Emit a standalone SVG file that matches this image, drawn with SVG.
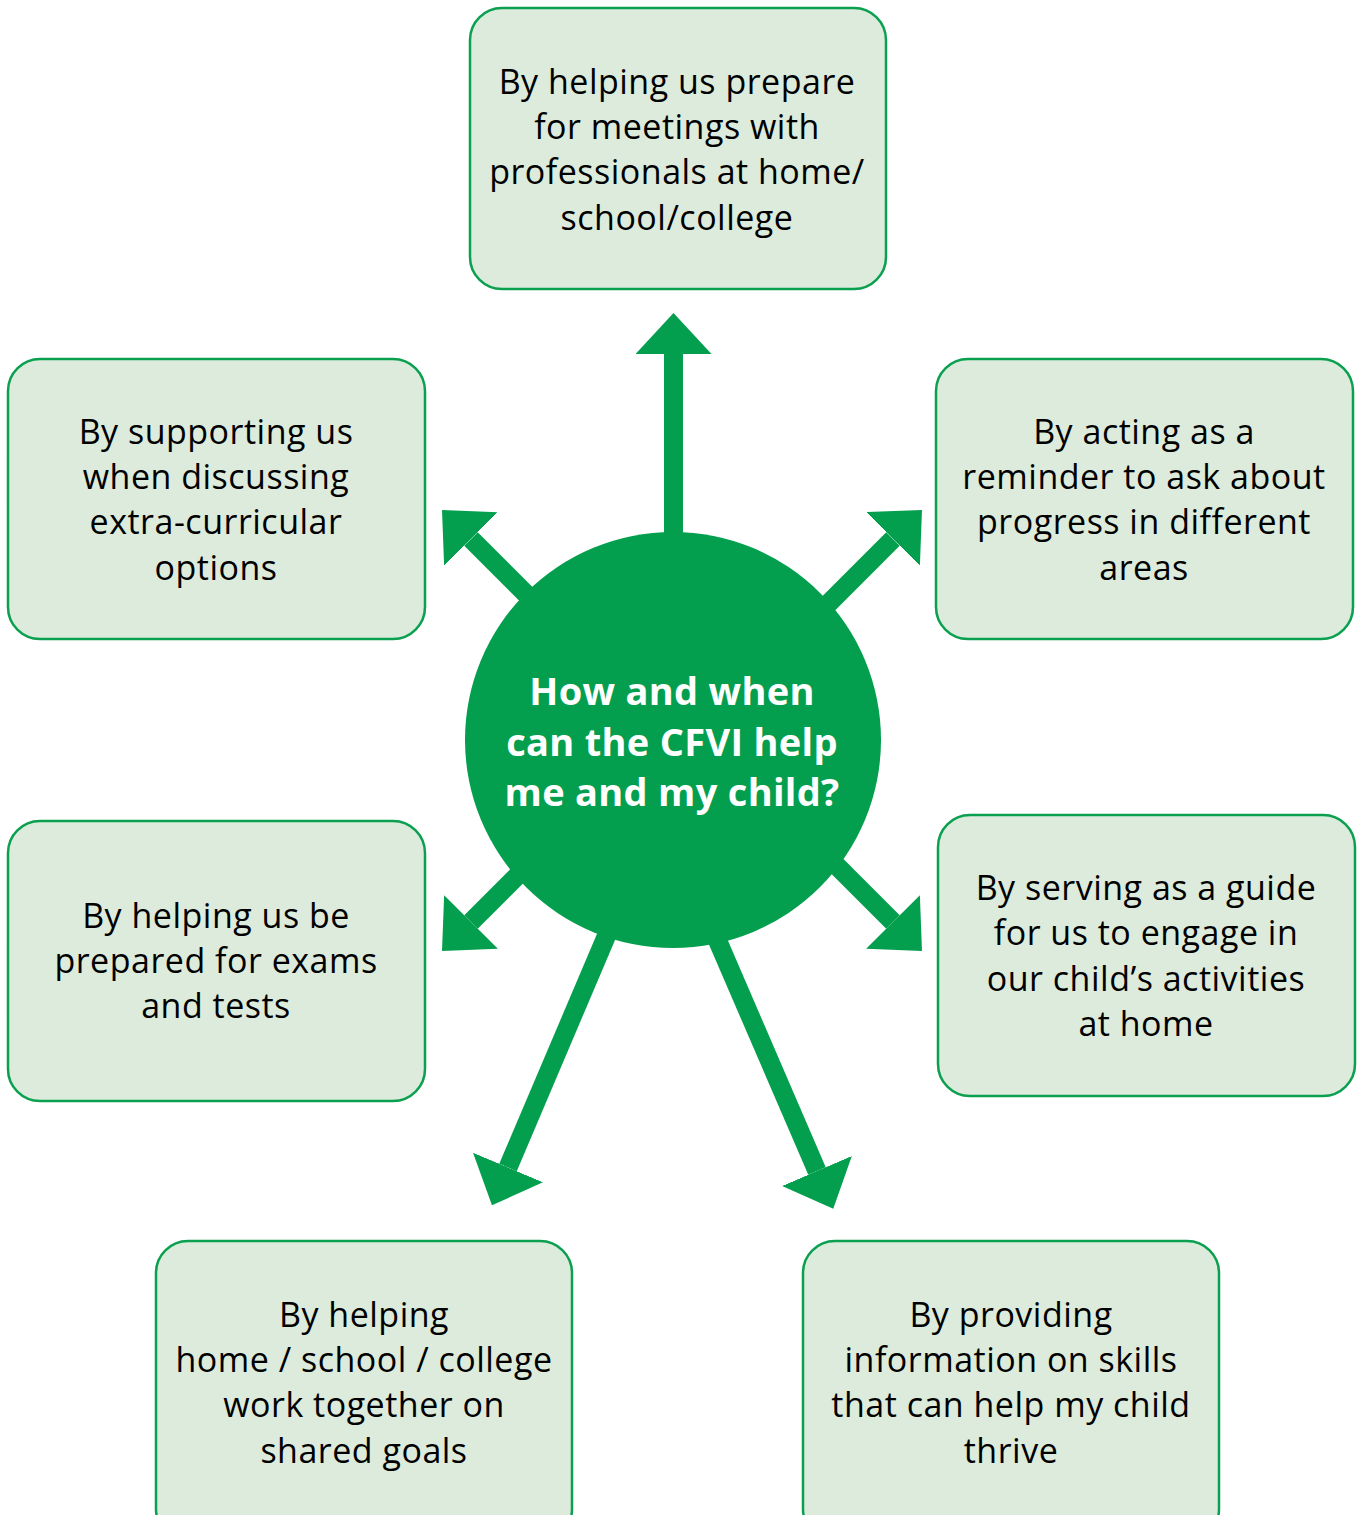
<svg xmlns="http://www.w3.org/2000/svg" width="1362" height="1515" viewBox="0 0 1362 1515">
<style>
.box{fill:#dcebdc;stroke:#0aa04f;stroke-width:2.5}
.t{font-family:"Open Sans","Noto Sans","Liberation Sans",sans-serif;font-size:34px;font-weight:500;letter-spacing:0.5px;fill:#000;text-anchor:middle}
.c{font-family:"Open Sans","Noto Sans","Liberation Sans",sans-serif;font-size:38px;font-weight:bold;letter-spacing:0.3px;fill:#fff;text-anchor:middle}
.arr{stroke:#039f4e;stroke-width:19;fill:none;marker-end:url(#head)}
</style>
<defs>
<marker id="head" markerUnits="userSpaceOnUse" markerWidth="42" markerHeight="77" refX="0" refY="38" orient="auto" viewBox="0 0 42 77">
<path d="M0,0 L41,38 L0,76 Z" fill="#039f4e"/>
</marker>
</defs>
<rect width="1362" height="1515" fill="#fff"/>
<g id="connectors">
<line class="arr" x1="673.5" y1="740" x2="673.5" y2="354"/>
<line class="arr" x1="671" y1="739" x2="471" y2="539"/>
<line class="arr" x1="693" y1="739" x2="893" y2="539"/>
<line class="arr" x1="671" y1="722" x2="471" y2="922"/>
<line class="arr" x1="693" y1="722" x2="893" y2="922"/>
<line class="arr" x1="640" y1="857" x2="508" y2="1167.5"/>
<line class="arr" x1="685" y1="865" x2="817" y2="1171"/>
</g>
<g id="center">
<circle cx="673" cy="740" r="208" fill="#039f4e"/>
<text class="c" x="672" y="705">How and when</text>
<text class="c" x="672" y="756">can the CFVI help</text>
<text class="c" x="672" y="806">me and my child?</text>
</g>
<g id="n-top">
<rect class="box" x="470" y="8" width="416" height="281" rx="32"/>
<text class="t" x="677" y="94">By helping us prepare</text>
<text class="t" x="677" y="139">for meetings with</text>
<text class="t" x="677" y="184">professionals at home/</text>
<text class="t" x="677" y="230">school/college</text>
</g>
<g id="n-upper-left">
<rect class="box" x="8" y="359" width="417" height="280" rx="32"/>
<text class="t" x="216" y="444">By supporting us</text>
<text class="t" x="216" y="489">when discussing</text>
<text class="t" x="216" y="534">extra-curricular</text>
<text class="t" x="216" y="580">options</text>
</g>
<g id="n-upper-right">
<rect class="box" x="936" y="359" width="417" height="280" rx="32"/>
<text class="t" x="1144" y="444">By acting as a</text>
<text class="t" x="1144" y="489">reminder to ask about</text>
<text class="t" x="1144" y="534">progress in different</text>
<text class="t" x="1144" y="580">areas</text>
</g>
<g id="n-mid-left">
<rect class="box" x="8" y="821" width="417" height="280" rx="32"/>
<text class="t" x="216" y="928">By helping us be</text>
<text class="t" x="216" y="973">prepared for exams</text>
<text class="t" x="216" y="1018">and tests</text>
</g>
<g id="n-mid-right">
<rect class="box" x="938" y="815" width="417" height="281" rx="32"/>
<text class="t" x="1146" y="900">By serving as a guide</text>
<text class="t" x="1146" y="945">for us to engage in</text>
<text class="t" x="1146" y="991">our child’s activities</text>
<text class="t" x="1146" y="1036">at home</text>
</g>
<g id="n-bottom-left">
<rect class="box" x="156" y="1241" width="416" height="300" rx="32"/>
<text class="t" x="364" y="1327">By helping</text>
<text class="t" x="364" y="1372">home / school / college</text>
<text class="t" x="364" y="1417">work together on</text>
<text class="t" x="364" y="1463">shared goals</text>
</g>
<g id="n-bottom-right">
<rect class="box" x="803" y="1241" width="416" height="300" rx="32"/>
<text class="t" x="1011" y="1327">By providing</text>
<text class="t" x="1011" y="1372">information on skills</text>
<text class="t" x="1011" y="1417">that can help my child</text>
<text class="t" x="1011" y="1463">thrive</text>
</g>
</svg>
